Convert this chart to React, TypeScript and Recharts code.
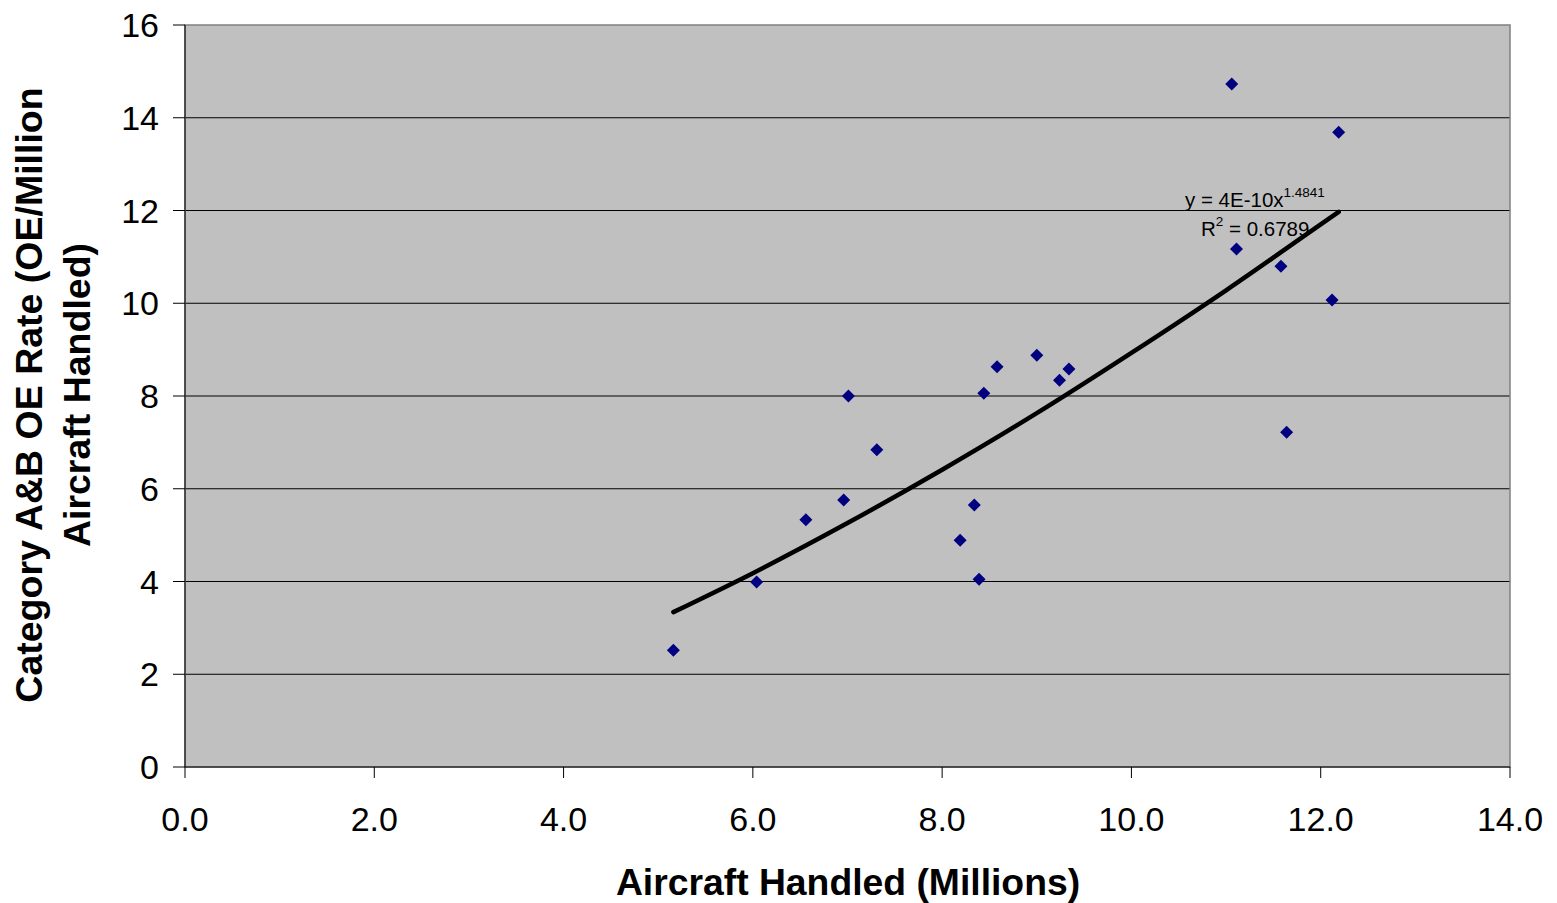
import React from "react";
import { ComposedChart, XAxis, YAxis, CartesianGrid, Scatter, Line, Customized, ReferenceArea } from "recharts";

const aircraftX = [5.16, 6.04, 6.56, 6.96, 7.01, 7.31, 8.19, 8.34, 8.39, 8.44, 8.58, 9.0, 9.24, 9.34, 11.06, 11.11, 11.58, 11.64, 12.12, 12.19];
const oeRateY = [2.52, 3.99, 5.33, 5.76, 8.0, 6.84, 4.89, 5.65, 4.05, 8.06, 8.63, 8.88, 8.34, 8.58, 14.73, 11.17, 10.8, 7.22, 10.07, 13.69];

const trendX = [5.16, 6, 7, 8, 9, 10, 11, 12, 12.19];
const trendY = [3.34, 4.18, 5.26, 6.41, 7.63, 8.93, 10.28, 11.7, 11.97];

const xTicks = [0, 2, 4, 6, 8, 10, 12, 14];
const yTicks = [0, 2, 4, 6, 8, 10, 12, 14, 16];
const gridValues = [2, 4, 6, 8, 10, 12, 14];

const xTitle = "Aircraft Handled (Millions)";
const yTitleLines = ["Category A&B OE Rate (OE/Million", "Aircraft Handled)"];
const eqText = "y = 4E-10x";
const eqExp = "1.4841";
const r2Value = " = 0.6789";

const points = aircraftX.map((x, i) => ({ x, y: oeRateY[i] }));
const trend = trendX.map((x, i) => ({ x, y: trendY[i] }));

const FONT = "'Liberation Sans', Arial, sans-serif";

const Diamond = (props: any) => {
  const { cx, cy } = props;
  if (cx == null || cy == null) return null;
  const s = 6.5;
  return <polygon points={`${cx},${cy - s} ${cx + s},${cy} ${cx},${cy + s} ${cx - s},${cy}`} fill="#000080" />;
};

const Annotation = () => (
  <g fontFamily={FONT} fill="#000">
    <text x={1185} y={207} fontSize={20.5}>
      {eqText}
      <tspan fontSize={13.5} dy={-10}>{eqExp}</tspan>
    </text>
    <text x={1201} y={236} fontSize={20.5}>
      R<tspan fontSize={13.5} dy={-10}>2</tspan>
      <tspan dy={10}>{r2Value}</tspan>
    </text>
  </g>
);

const YTitle = () => {
  const cx = 54;
  const cy = 395;
  return (
    <text
      transform={`rotate(-90, ${cx}, ${cy})`}
      x={cx}
      y={cy}
      textAnchor="middle"
      fontFamily={FONT}
      fontWeight="bold"
      fontSize={37.5}
      fill="#000"
    >
      <tspan x={cx} dy={-12}>{yTitleLines[0]}</tspan>
      <tspan x={cx} dy={48}>{yTitleLines[1]}</tspan>
    </text>
  );
};

const XTitle = () => (
  <text x={848} y={895} textAnchor="middle" fontFamily={FONT} fontWeight="bold" fontSize={37.3} fill="#000">{xTitle}</text>
);

export default function App() {
  return (
    <div style={{ position: "absolute", left: 0, top: 0, width: 1557, height: 903, background: "#fff" }}>
      <ComposedChart width={1557} height={903} margin={{ top: 25, right: 47, bottom: 106, left: 125 }}>
        <CartesianGrid
          horizontal
          vertical={false}
          fill="#c0c0c0"
          stroke="#000"
          strokeWidth={1}
          horizontalValues={gridValues}
        />
        <ReferenceArea x1={0} x2={14} y1={0} y2={16} fill="none" stroke="#808080" strokeWidth={1.5} ifOverflow="visible" />
        <XAxis
          type="number"
          dataKey="x"
          domain={[0, 14]}
          ticks={xTicks}
          tickFormatter={(v: number) => v.toFixed(1)}
          allowDataOverflow
          height={30}
          stroke="#000"
          tickLine={{ stroke: "#000" }}
          tickSize={11}
          tickMargin={29}
          tick={{ fill: "#000", fontSize: 34, fontFamily: FONT }}
          label={{ value: xTitle, content: XTitle }}
        />
        <YAxis
          type="number"
          dataKey="y"
          domain={[0, 16]}
          ticks={yTicks}
          allowDataOverflow
          width={60}
          stroke="#000"
          tickLine={{ stroke: "#000" }}
          tickSize={12}
          tickMargin={14}
          tick={{ fill: "#000", fontSize: 34, fontFamily: FONT }}
          label={{ value: yTitleLines[0], content: YTitle }}
        />
        <Line
          data={trend}
          dataKey="y"
          type="monotone"
          stroke="#000"
          strokeWidth={4.5}
          dot={false}
          activeDot={false}
          isAnimationActive={false}
          strokeLinecap="round"
        />
        <Scatter data={points} dataKey="y" shape={Diamond} isAnimationActive={false} />
        <Customized component={Annotation} />
      </ComposedChart>
    </div>
  );
}
